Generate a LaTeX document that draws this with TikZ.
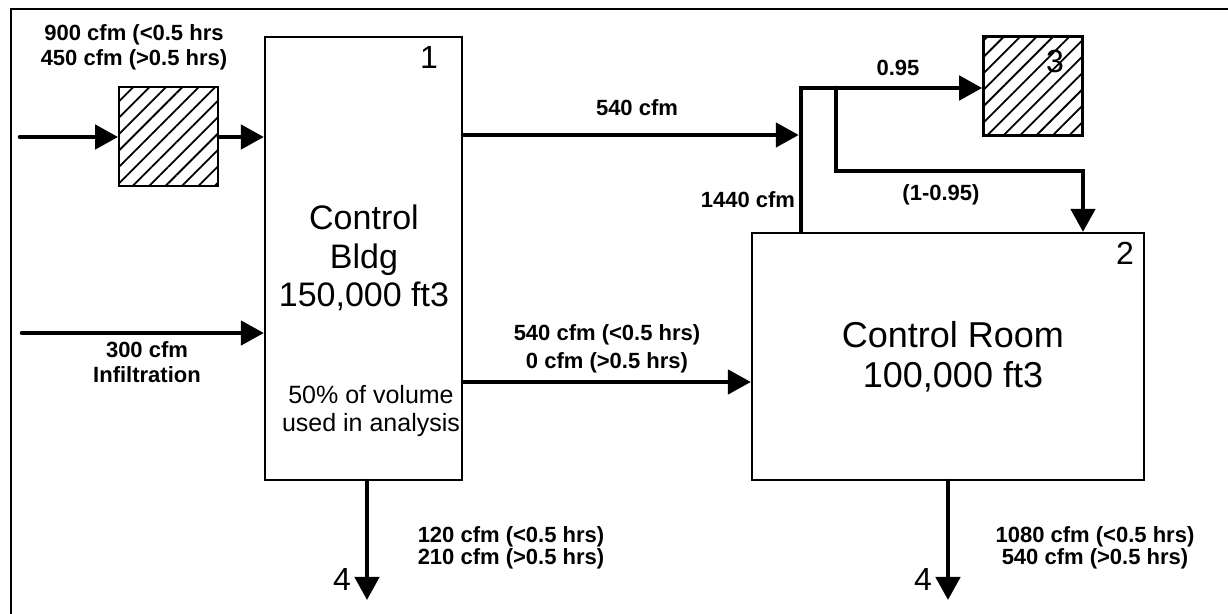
\documentclass[tikz,border=0pt]{standalone}
\usepackage{fontspec}
\setmainfont{Liberation Sans}
\usepackage{tikz}
\usetikzlibrary{arrows.meta,patterns.meta}

\begin{document}
\begin{tikzpicture}[x=0.5pt,y=-0.5pt,
    pipe/.style={line width=2.3pt,line cap=round},
    flow/.style={pipe,-{Triangle[length=11.5pt,width=12pt]}},
    vol/.style={draw,line width=1.1pt,inner sep=0pt},
    filt/.style={draw,line width=1.3pt,inner sep=0pt,minimum size=49.5pt,
      pattern={Lines[angle=45,distance=5.8pt,line width=0.9pt]}},
    rate/.style={font=\bfseries\fontsize{11}{12.5}\selectfont,align=center,inner sep=0pt},
    tag/.style={font=\fontsize{16}{18}\selectfont,inner sep=0pt}]
  \useasboundingbox (0,0) rectangle (1228,614);
  \draw[line width=1pt] (11,614) -- (11,9) -- (1228,9);

  \node[vol,minimum width=98.5pt,minimum height=221.5pt] (bldg) at (363.5,258.5) {};
  \node[vol,minimum width=196pt,minimum height=123.5pt] (room) at (948,356.5) {};
  \node[filt] (filt1) at (168.5,136.5) {};
  \node[filt] (filt3) at (1033,86) {};

  \node[font=\fontsize{17}{19.3}\selectfont,align=center,inner sep=0pt] (bldgtxt) at (364,258) {Control\\Bldg\\150,000 ft3};
  \node[font=\fontsize{12.5}{14}\selectfont,align=center,inner sep=0pt] (bldgnote) at (371,411) {50\% of volume\\used in analysis};
  \node[font=\fontsize{18}{20}\selectfont,align=center,inner sep=0pt] (roomtxt) at (953,357) {Control Room\\100,000 ft3};

  \node[tag] (n1) at (429,57) {1};
  \node[tag] (n2) at (1125,253) {2};
  \node[tag] (n3) at (1055,61) {3};
  \node[tag] (n4a) at (342,579) {4};
  \node[tag] (n4b) at (923,579) {4};

  \coordinate (src1) at (20,137);
  \coordinate (src2) at (22,333);
  \coordinate (tee) at (801,88);
  \coordinate (split) at (836,88);
  \coordinate (bend) at (1083,171);
  \coordinate (sink1) at (367,600);
  \coordinate (sink2) at (948,600);

  \draw[flow] (src1) -- (src1 -| filt1.west);
  \draw[flow] (filt1.east |- src1) -- (src1 -| bldg.west);
  \draw[flow] (src2) -- (src2 -| bldg.west);
  \draw[flow,shorten >=1.1pt] (bldg.east |- 0,135) -- (tee |- 0,135);
  \draw[flow,line join=miter] (tee |- room.north) -- (tee) -- (tee -| filt3.west);
  \draw[flow,line join=miter] (split) |- (bend) -- (bend |- room.north);
  \draw[flow] (bldg.east |- 0,382) -- (room.west |- 0,382);
  \draw[flow] (bldg.south -| sink1) -- (sink1);
  \draw[flow] (room.south -| sink2) -- (sink2);

  \node[rate] (q900) at (134,47) {900 cfm (<0.5 hrs\\450 cfm (>0.5 hrs)};
  \node[rate] (q300) at (147,362) {300 cfm\\Infiltration};
  \node[rate] (q540) at (637,108) {540 cfm};
  \node[rate] (q1440) at (748,200) {1440 cfm};
  \node[rate] (q095) at (898,68) {0.95};
  \node[rate] (q005) at (941,195) {(1-0.95)};
  \node[rate,font=\bfseries\fontsize{11}{14}\selectfont] (qmid) at (607,349) {540 cfm (<0.5 hrs)\\0 cfm (>0.5 hrs)};
  \node[rate,font=\bfseries\fontsize{11}{9.8}\selectfont] (q120) at (511,548) {120 cfm (<0.5 hrs)\\210 cfm (>0.5 hrs)};
  \node[rate,font=\bfseries\fontsize{11}{9.8}\selectfont] (q1080) at (1095,548) {1080 cfm (<0.5 hrs)\\540 cfm (>0.5 hrs)};
\end{tikzpicture}
\end{document}
